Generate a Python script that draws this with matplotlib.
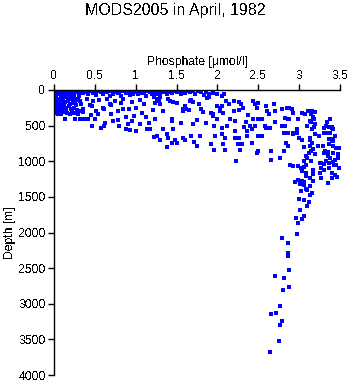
import numpy as np
import matplotlib
matplotlib.use("Agg")
import matplotlib.pyplot as plt

plt.rcParams["font.family"] = ["Liberation Sans", "DejaVu Sans"]
plt.rcParams["text.antialiased"] = False

TITLE = "MODS2005 in April, 1982"
X_LABEL = "Phosphate [\u03bcmol/l]"
Y_LABEL = "Depth [m]"
X_TICKS = [0, 0.5, 1, 1.5, 2, 2.5, 3, 3.5]
X_TICK_LABELS = ["0", "0.5", "1", "1.5", "2", "2.5", "3", "3.5"]
Y_TICKS = [0, 500, 1000, 1500, 2000, 2500, 3000, 3500, 4000]

# (phosphate umol/l, depth m) station samples, grouped by water layer
surface = [
    (0.02, 10), (0.05, 20), (0.08, 5), (0.1, 30), (0.12, 15), (0.15, 40), (0.18, 10),
    (0.2, 25), (0.22, 50), (0.25, 15), (0.28, 35), (0.3, 5), (0.32, 20), (0.35, 45),
    (0.38, 10), (0.4, 30), (0.42, 60), (0.45, 15), (0.48, 40), (0.5, 20), (0.52, 70),
    (0.55, 10), (0.58, 35), (0.6, 55), (0.62, 15), (0.65, 30), (0.68, 80), (0.7, 20),
    (0.72, 50), (0.75, 10), (0.78, 40), (0.8, 25), (0.82, 90), (0.85, 15), (0.88, 45),
    (0.9, 30), (0.93, 70), (0.95, 10), (0.98, 35), (1.0, 20), (1.03, 60), (1.05, 15),
    (1.08, 40), (1.1, 25), (1.12, 80), (1.15, 10), (1.18, 35), (1.2, 55), (1.22, 20),
    (1.25, 40), (1.28, 15), (1.3, 65), (1.33, 30), (1.36, 10), (1.38, 50), (1.4, 25),
    (1.43, 15), (1.45, 45), (1.48, 20), (1.5, 35), (1.53, 10), (1.55, 60), (1.58, 25),
    (1.6, 40), (1.63, 15), (1.66, 30), (1.7, 20), (1.73, 55), (1.76, 10), (1.8, 35),
    (1.83, 70), (1.86, 25), (1.9, 50), (1.95, 40), (2.0, 60), (2.05, 80), (2.08, 55),
    (0.06, 8), (0.14, 22), (0.24, 6), (0.33, 28), (0.44, 4), (0.57, 24), (0.66, 6),
    (0.74, 28), (0.86, 4), (0.97, 52), (1.13, 4), (1.27, 58), (1.42, 4), (1.57, 6),
]
near_zero = [
    (0.01, 5), (0.02, 40), (0.03, 80), (0.04, 120), (0.02, 160), (0.05, 200), (0.03, 240),
    (0.06, 20), (0.07, 60), (0.08, 100), (0.06, 140), (0.09, 180), (0.07, 220), (0.1, 260),
    (0.08, 300), (0.11, 10), (0.12, 50), (0.13, 90), (0.11, 130), (0.14, 170), (0.12, 210),
    (0.15, 250), (0.13, 290), (0.16, 320), (0.17, 30), (0.18, 70), (0.19, 110), (0.17, 150),
    (0.2, 190), (0.18, 230), (0.21, 270), (0.22, 300), (0.23, 15), (0.24, 55), (0.25, 95),
    (0.23, 135), (0.26, 175), (0.27, 215), (0.25, 255), (0.28, 285), (0.3, 40), (0.31, 80),
    (0.29, 120), (0.32, 160), (0.33, 200), (0.34, 10), (0.02, 280), (0.04, 320), (0.01, 100),
    (0.05, 340), (0.09, 330), (0.14, 310), (0.19, 330), (0.24, 320), (0.29, 330), (0.35, 310),
    (0.04, 60), (0.1, 75), (0.15, 5), (0.2, 120), (0.08, 45), (0.16, 95), (0.22, 65),
    (0.27, 140), (0.01, 200), (0.03, 180), (0.05, 260), (0.07, 280), (0.11, 230),
]
upper_left = [
    (0.135, 411), (0.257, 411), (0.32, 411), (0.37, 400), (0.41, 410), (0.46, 505),
    (0.5, 411), (0.54, 341), (0.58, 529), (0.61, 505), (0.63, 458), (0.61, 271), (0.6, 255),
    (0.68, 200), (0.7, 215), (0.72, 435), (0.78, 420), (0.79, 505), (0.88, 550), (0.9, 480),
    (0.93, 560), (1.0, 575), (0.96, 435), (1.05, 480), (1.14, 550), (1.16, 460), (0.84, 271),
    (0.92, 271), (0.82, 180), (0.46, 225), (0.44, 210), (0.36, 270), (0.3, 295), (0.24, 180),
    (0.15, 295), (0.4, 130), (0.48, 160), (0.55, 140), (0.65, 120), (0.75, 150), (0.85, 130),
    (0.95, 170), (1.05, 140), (1.1, 200), (1.0, 250), (0.78, 300), (0.7, 330), (0.52, 300),
    (0.45, 350), (1.08, 320), (1.12, 380), (0.98, 360), (0.88, 380),
]
mid_center = [
    (1.21, 280), (1.34, 295), (1.44, 410), (1.44, 430), (1.24, 410), (1.58, 270), (1.61, 265),
    (1.65, 285), (1.58, 300), (1.6, 225), (1.66, 150), (1.68, 140), (1.7, 165), (1.75, 420),
    (1.8, 270), (1.82, 310), (1.78, 200), (1.87, 110), (1.9, 100), (1.92, 320), (1.94, 330),
    (1.94, 360), (1.99, 230), (2.03, 255), (2.05, 220), (2.03, 300), (2.07, 320), (2.1, 160),
    (2.14, 190), (2.0, 410), (2.15, 410), (2.2, 160), (2.26, 170), (2.29, 200), (2.31, 250),
    (2.2, 290), (2.26, 280), (2.22, 430), (1.96, 500), (2.06, 530), (2.22, 580), (1.18, 550),
    (1.34, 550), (1.38, 620), (1.46, 550), (1.58, 670), (1.68, 645), (1.79, 645), (1.97, 645),
    (2.05, 620), (2.09, 670), (2.21, 670), (2.27, 670), (2.36, 645), (2.36, 575), (1.22, 660),
    (1.26, 650), (1.22, 100), (1.26, 120), (1.3, 95), (1.28, 160), (1.24, 180), (1.3, 200),
    (1.4, 120), (1.42, 150), (1.46, 170), (1.5, 185), (1.3, 697), (1.4, 674), (1.48, 697),
    (1.5, 744), (1.45, 744), (1.38, 805), (1.6, 697), (1.71, 735), (1.75, 791), (1.92, 753),
    (1.96, 847), (2.07, 758), (2.09, 847), (2.23, 1002), (2.25, 753), (2.3, 758), (2.28, 838),
    (2.38, 350), (2.35, 450), (2.4, 500), (2.32, 520), (2.12, 500), (1.86, 470), (1.7, 480),
    (1.55, 460),
]
upper_right = [
    (2.44, 154), (2.46, 200), (2.5, 178), (2.48, 248), (2.59, 225), (2.61, 295), (2.63, 341),
    (2.69, 200), (2.71, 290), (2.79, 271), (2.85, 250), (2.88, 255), (2.91, 270), (2.93, 318),
    (3.04, 318), (3.12, 300), (3.16, 290), (3.19, 305), (3.18, 411), (3.13, 430), (2.44, 411),
    (2.5, 411), (2.55, 405), (2.71, 450), (2.83, 390), (2.86, 411), (2.88, 400), (2.99, 411),
    (3.38, 411), (3.33, 505), (3.36, 520), (3.4, 530), (3.3, 530), (2.46, 505), (2.58, 505),
    (2.6, 530), (2.64, 540), (2.79, 505), (2.83, 505), (2.97, 550), (3.1, 505), (3.16, 550),
    (2.42, 550), (2.5, 645), (2.55, 645), (2.81, 598), (2.86, 598), (2.93, 600), (2.97, 610),
    (3.0, 670), (3.13, 670), (3.2, 620), (3.24, 645), (3.33, 600), (3.38, 600), (3.44, 645),
    (3.07, 340), (3.11, 300), (3.14, 330), (3.17, 380), (3.15, 450), (3.2, 480), (3.18, 520),
    (3.34, 453), (3.42, 552), (3.4, 515), (3.3, 608), (3.42, 690), (3.4, 720),
]
mid_right = [
    (2.42, 744), (2.48, 885), (2.5, 860), (2.65, 861), (2.65, 978), (2.81, 852), (2.76, 955),
    (2.84, 750), (2.86, 790), (2.93, 620), (3.04, 697), (3.06, 800), (3.13, 700), (3.16, 744),
    (3.13, 790), (3.15, 850), (3.17, 830), (3.23, 780), (3.29, 780), (3.32, 850), (3.35, 870),
    (3.37, 760), (3.41, 790), (3.45, 820), (3.37, 690), (3.41, 720), (2.89, 1048), (2.93, 1070),
    (2.98, 1070), (3.02, 1100), (3.06, 1085), (3.04, 1140), (3.08, 1170), (3.08, 1200),
    (3.17, 1120), (3.17, 1180), (3.09, 1050), (3.25, 1020), (3.27, 1025), (3.3, 1040),
    (3.37, 1020), (3.41, 1010), (3.43, 1050), (3.37, 1090), (3.27, 1100), (3.31, 1120),
    (3.26, 1160), (3.4, 1160), (3.44, 1190), (3.4, 1230), (2.98, 1260), (3.04, 1280),
    (3.06, 1290), (3.13, 1240), (3.17, 1280), (3.27, 1240), (3.35, 1300), (3.5, 810),
    (3.44, 983), (3.46, 1217), (3.48, 900), (3.47, 950), (3.45, 1050), (3.49, 1100),
    (3.35, 930), (3.3, 890), (3.42, 880), (3.38, 960), (3.33, 990), (3.2, 900), (3.12, 880),
    (3.1, 950), (3.14, 1000), (3.06, 1000), (3.08, 920), (3.13, 1350), (3.1, 1400), (3.05, 1320),
]
deep = [
    (2.95, 1287), (3.01, 1320), (3.06, 1334), (3.08, 1390), (3.02, 1420), (3.13, 1480),
    (3.16, 1446), (3.0, 1530), (3.06, 1545), (3.12, 1577), (3.1, 1633), (3.01, 1680),
    (3.06, 1773), (3.03, 1811), (2.96, 1802), (2.98, 1863), (2.97, 2026), (2.79, 2078),
    (2.86, 2152), (2.86, 2293), (2.86, 2331), (2.88, 2527), (2.7, 2616), (2.81, 2635),
    (2.87, 2766), (2.8, 2813), (2.77, 3033), (2.66, 3150), (2.72, 3136), (2.79, 3248),
    (2.76, 3295), (2.75, 3529), (2.64, 3683),
]

layers = [surface, near_zero, upper_left, mid_center, upper_right, mid_right, deep]
samples = np.array([pt for layer in layers for pt in layer])
phosphate = samples[:, 0]
depth = samples[:, 1]

fig = plt.figure(figsize=(3.5, 3.84), dpi=100)
ax = fig.add_axes([54 / 350, 1 - 375 / 384, 286 / 350, 285 / 384])

ax.scatter(phosphate, depth, s=5, marker="s", color="#0000ff", linewidths=0)

ax.set_xlim(0, 3.5)
ax.set_ylim(4000, 0)
ax.xaxis.tick_top()
ax.xaxis.set_label_position("top")
ax.set_xticks(X_TICKS)
ax.set_xticklabels(X_TICK_LABELS)
ax.set_yticks(Y_TICKS)
ax.set_xlabel(X_LABEL, fontsize=8.7, labelpad=3)
ax.set_ylabel(Y_LABEL, fontsize=8.7, labelpad=2)
ax.tick_params(axis="both", labelsize=8.7, direction="out", length=4, width=1, pad=2)
for side in ["right", "bottom"]:
    ax.spines[side].set_visible(False)
for side in ["left", "top"]:
    ax.spines[side].set_linewidth(1)

fig.text(0.5, 1 - 11 / 384, TITLE, ha="center", va="center", fontsize=11.5)

fig.savefig("out.png", dpi=100)
